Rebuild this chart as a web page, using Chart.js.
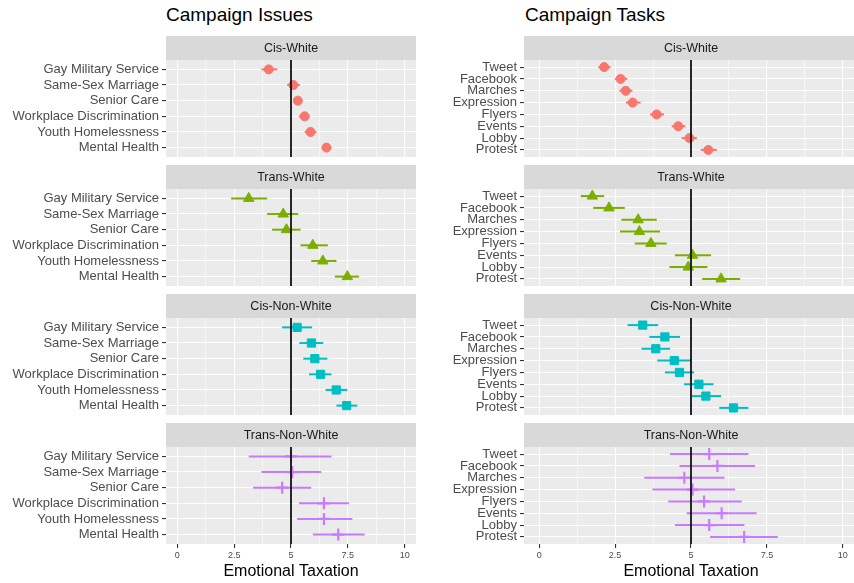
<!DOCTYPE html>
<html>
<head>
<meta charset="utf-8">
<script src="https://cdn.jsdelivr.net/npm/chart.js@4.4.1/dist/chart.umd.min.js"></script>
<style>
  html, body { margin: 0; padding: 0; background: #fff; }
  body { width: 854px; height: 583px; overflow: hidden; position: relative;
         font-family: "Liberation Sans", Arial, sans-serif; }
  .heading { position: absolute; top: 4px; font-size: 19px; color: #000; white-space: nowrap; }
  .panel { position: absolute; }
  .panel canvas { display: block; }
</style>
</head>
<body>
<div class="heading" style="left:166px">Campaign Issues</div>
<div class="heading" style="left:525px">Campaign Tasks</div>
<div id="root"></div>
<script>
// ---- categories ----
const issues = ['Gay Military Service', 'Same-Sex Marriage', 'Senior Care',
                'Workplace Discrimination', 'Youth Homelessness', 'Mental Health'];
const tasks = ['Tweet', 'Facebook', 'Marches', 'Expression', 'Flyers', 'Events', 'Lobby', 'Protest'];
const groups = ['Cis-White', 'Trans-White', 'Cis-Non-White', 'Trans-Non-White'];
const xTickValues = [0, 2.5, 5, 7.5, 10];
const xTickLabels = ['0', '2.5', '5', '7.5', '10'];
const referenceValue = 5;
const axisTitle = 'Emotional Taxation';

// ---- Campaign issues: means and interval bounds ----
const issuesCisWhiteMean       = [4.02, 5.10, 5.30, 5.60, 5.86, 6.56];
const issuesCisWhiteLow        = [3.70, 4.83, 5.12, 5.35, 5.60, 6.35];
const issuesCisWhiteHigh       = [4.40, 5.39, 5.50, 5.82, 6.12, 6.78];

const issuesTransWhiteMean     = [3.14, 4.66, 4.80, 5.96, 6.40, 7.48];
const issuesTransWhiteLow      = [2.37, 3.95, 4.17, 5.42, 5.89, 6.93];
const issuesTransWhiteHigh     = [3.95, 5.32, 5.42, 6.62, 7.00, 7.99];

const issuesCisNonWhiteMean    = [5.27, 5.90, 6.05, 6.30, 6.99, 7.45];
const issuesCisNonWhiteLow     = [4.61, 5.37, 5.54, 5.79, 6.52, 7.00];
const issuesCisNonWhiteHigh    = [5.93, 6.42, 6.60, 6.78, 7.48, 7.92];

const issuesTransNonWhiteMean  = [5.00, 5.05, 4.61, 6.45, 6.45, 7.08];
const issuesTransNonWhiteLow   = [3.14, 3.70, 3.33, 5.35, 5.27, 5.96];
const issuesTransNonWhiteHigh  = [6.78, 6.33, 5.89, 7.55, 7.70, 8.24];

// ---- Campaign tasks: means and interval bounds ----
const tasksCisWhiteMean        = [2.14, 2.68, 2.85, 3.08, 3.87, 4.58, 4.95, 5.57];
const tasksCisWhiteLow         = [1.95, 2.49, 2.64, 2.86, 3.65, 4.36, 4.69, 5.32];
const tasksCisWhiteHigh        = [2.35, 2.90, 3.07, 3.34, 4.11, 4.82, 5.19, 5.85];

const tasksTransWhiteMean      = [1.75, 2.30, 3.26, 3.30, 3.68, 5.05, 4.91, 5.99];
const tasksTransWhiteLow       = [1.37, 1.78, 2.71, 2.66, 3.15, 4.47, 4.29, 5.37];
const tasksTransWhiteHigh      = [2.14, 2.82, 3.87, 3.98, 4.20, 5.66, 5.54, 6.62];

const tasksCisNonWhiteMean     = [3.41, 4.14, 3.84, 4.45, 4.62, 5.26, 5.49, 6.40];
const tasksCisNonWhiteLow      = [2.91, 3.63, 3.37, 3.89, 4.14, 4.77, 5.02, 5.93];
const tasksCisNonWhiteHigh     = [3.92, 4.64, 4.31, 5.02, 5.10, 5.74, 5.99, 6.89];

const tasksTransNonWhiteMean   = [5.60, 5.87, 4.78, 5.05, 5.43, 6.01, 5.60, 6.75];
const tasksTransNonWhiteLow    = [4.31, 4.62, 3.46, 3.73, 4.25, 4.86, 4.47, 5.63];
const tasksTransNonWhiteHigh   = [6.89, 7.11, 6.10, 6.45, 6.67, 7.16, 6.76, 7.86];

// ---- styling per group (ggplot default hues and shapes) ----
const groupStyles = [
  { color: '#F8766D', pointStyle: 'circle',   radius: 4.5, border: 1 },
  { color: '#7CAE00', pointStyle: 'triangle', radius: 6,   border: 1 },
  { color: '#00BFC4', pointStyle: 'rect',     radius: 5.8, border: 1 },
  { color: '#C77CFF', pointStyle: 'cross',    radius: 6,   border: 2.2 }
];

const issueSeries = [
  [issuesCisWhiteMean, issuesCisWhiteLow, issuesCisWhiteHigh],
  [issuesTransWhiteMean, issuesTransWhiteLow, issuesTransWhiteHigh],
  [issuesCisNonWhiteMean, issuesCisNonWhiteLow, issuesCisNonWhiteHigh],
  [issuesTransNonWhiteMean, issuesTransNonWhiteLow, issuesTransNonWhiteHigh]
];
const taskSeries = [
  [tasksCisWhiteMean, tasksCisWhiteLow, tasksCisWhiteHigh],
  [tasksTransWhiteMean, tasksTransWhiteLow, tasksTransWhiteHigh],
  [tasksCisNonWhiteMean, tasksCisNonWhiteLow, tasksCisNonWhiteHigh],
  [tasksTransNonWhiteMean, tasksTransNonWhiteLow, tasksTransNonWhiteHigh]
];

// ---- layout ----
const FONT = '"Liberation Sans", Arial, sans-serif';
Chart.defaults.font.family = FONT;
const STRIP = 24;
const PANEL_H = 97;
const stripTops = [36, 165, 294, 423];
const columns = [
  { left: 0,   width: 416, axisWidth: 166, cats: issues, series: issueSeries },
  { left: 430, width: 428, axisWidth: 94,  cats: tasks,  series: taskSeries }
];
const gridTicks = [0, 1.25, 2.5, 3.75, 5, 6.25, 7.5, 8.75, 10];
const isMajor = v => xTickValues.includes(v);

// grey panel background and facet strip
const facetPlugin = {
  id: 'facet',
  beforeDraw(chart, args, opts) {
    const { ctx, chartArea: a } = chart;
    ctx.save();
    ctx.fillStyle = '#EBEBEB';
    ctx.fillRect(a.left, a.top, a.right - a.left, a.bottom - a.top);
    ctx.fillStyle = '#D9D9D9';
    ctx.fillRect(a.left, a.top - STRIP, a.right - a.left, STRIP);
    ctx.fillStyle = '#1A1A1A';
    ctx.font = '12.5px ' + FONT;
    ctx.textAlign = 'center';
    ctx.textBaseline = 'middle';
    ctx.fillText(opts.label, (a.left + a.right) / 2, a.top - STRIP / 2 + 1);
    ctx.restore();
  }
};

const root = document.getElementById('root');

columns.forEach(col => {
  const n = col.cats.length;
  groups.forEach((g, gi) => {
    const bottomRow = gi === groups.length - 1;
    const top = stripTops[gi];
    const height = bottomRow ? 583 - top : STRIP + PANEL_H;
    const xAxisHeight = height - STRIP - PANEL_H;

    const wrap = document.createElement('div');
    wrap.className = 'panel';
    wrap.style.left = col.left + 'px';
    wrap.style.top = top + 'px';
    const canvas = document.createElement('canvas');
    canvas.width = col.width;
    canvas.height = height;
    canvas.style.width = col.width + 'px';
    canvas.style.height = height + 'px';
    wrap.appendChild(canvas);
    root.appendChild(wrap);

    const [mean, low, high] = col.series[gi];
    const st = groupStyles[gi];

    const datasets = [];
    // vertical reference line at the scale midpoint
    datasets.push({
      type: 'line', order: 0,
      data: [{ x: referenceValue, y: -0.6 }, { x: referenceValue, y: n - 0.4 }],
      borderColor: '#111', borderWidth: 1.8, pointRadius: 0, showLine: true
    });
    // point estimates
    datasets.push({
      type: 'scatter', order: 1,
      data: mean.map((m, i) => ({ x: m, y: i })),
      pointStyle: st.pointStyle, pointRadius: st.radius,
      backgroundColor: st.color, borderColor: st.color, borderWidth: st.border
    });
    // interval bars
    low.forEach((lo, i) => {
      datasets.push({
        type: 'line', order: 2,
        data: [{ x: lo, y: i }, { x: high[i], y: i }],
        borderColor: st.color, borderWidth: 2, pointRadius: 0, showLine: true
      });
    });

    new Chart(canvas, {
      type: 'scatter',
      data: { datasets },
      plugins: [facetPlugin],
      options: {
        responsive: false,
        devicePixelRatio: 1,
        animation: false,
        events: [],
        layout: { autoPadding: false, padding: { top: STRIP, left: 0, right: 0, bottom: 0 } },
        plugins: {
          legend: { display: false },
          tooltip: { enabled: false },
          facet: { label: g }
        },
        scales: {
          x: {
            type: 'linear', min: -0.5, max: 10.5,
            afterBuildTicks: s => { s.ticks = gridTicks.map(v => ({ value: v })); },
            afterFit: s => { s.height = xAxisHeight; s.paddingLeft = 0; s.paddingRight = 0; },
            border: { display: false },
            grid: {
              color: '#FFFFFF',
              lineWidth: c => (c.tick && isMajor(c.tick.value)) ? 1.1 : 0.55,
              drawTicks: bottomRow,
              tickLength: 4,
              tickWidth: 1.1,
              tickColor: c => (c.tick && isMajor(c.tick.value)) ? '#333333' : 'rgba(0,0,0,0)'
            },
            ticks: {
              display: bottomRow,
              autoSkip: false,
              maxRotation: 0,
              padding: 2,
              color: '#4D4D4D',
              font: { size: 9 },
              callback: v => {
                const k = xTickValues.indexOf(v);
                return k >= 0 ? xTickLabels[k] : '';
              }
            },
            title: {
              display: bottomRow,
              text: axisTitle,
              color: '#000',
              font: { size: 16 },
              padding: { top: 0, bottom: 2 }
            }
          },
          y: {
            type: 'linear', reverse: true, min: -0.6, max: n - 0.4,
            afterBuildTicks: s => { s.ticks = col.cats.map((c, i) => ({ value: i })); },
            afterFit: s => { s.width = col.axisWidth; s.paddingTop = 0; s.paddingBottom = 0; },
            border: { display: false },
            grid: {
              color: '#FFFFFF', lineWidth: 1.1,
              drawTicks: true, tickLength: 4, tickWidth: 1.1, tickColor: '#333333'
            },
            ticks: {
              autoSkip: false,
              padding: 3,
              color: '#4D4D4D',
              font: { size: 13, lineHeight: 1 },
              callback: v => col.cats[v]
            }
          }
        }
      }
    });
  });
});
</script>
</body>
</html>
